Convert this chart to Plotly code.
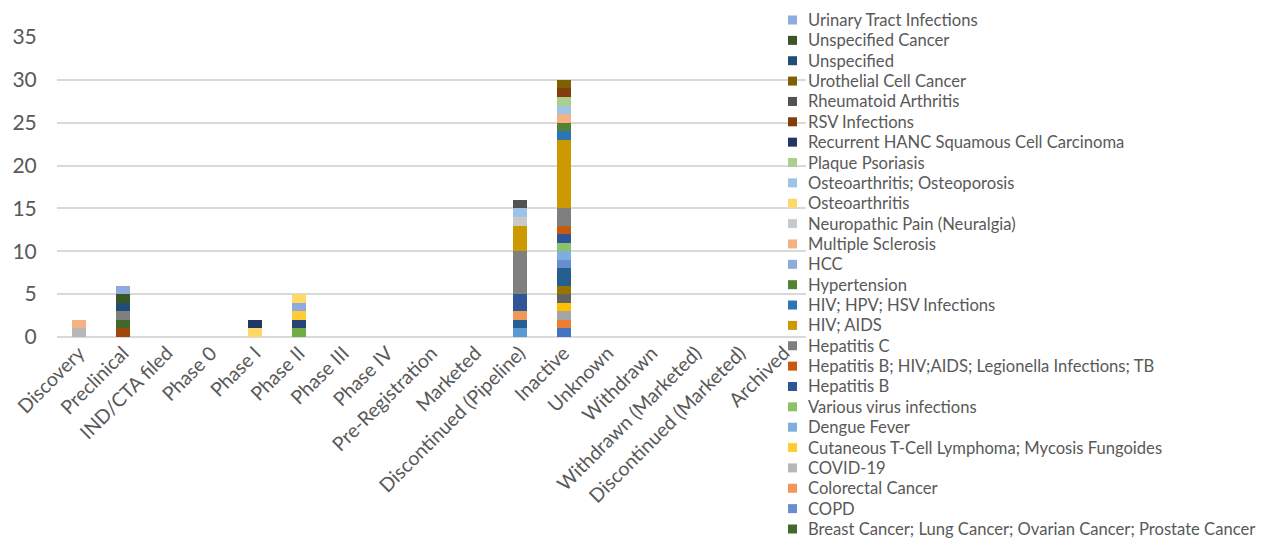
import plotly.graph_objects as go

categories = ["Discovery", "Preclinical", "IND/CTA filed", "Phase 0", "Phase I", "Phase II",
              "Phase III", "Phase IV", "Pre-Registration", "Marketed",
              "Discontinued (Pipeline)", "Inactive", "Unknown", "Withdrawn",
              "Withdrawn (Marketed)", "Discontinued (Marketed)", "Archived"]

# Series in stacking order (bottom -> top). The first 11 series have legend
# entries cut off in the reference, so their names are not visible.
series_names = [
    "Series 1", "Series 2", "Series 3", "Series 4", "Series 5", "Series 6",
    "Series 7", "Series 8", "Series 9", "Series 10", "Series 11",
    "Breast Cancer; Lung Cancer; Ovarian Cancer; Prostate Cancer", "COPD",
    "Colorectal Cancer", "COVID-19", "Cutaneous T-Cell Lymphoma; Mycosis Fungoides",
    "Dengue Fever", "Various virus infections", "Hepatitis B",
    "Hepatitis B; HIV;AIDS; Legionella Infections; TB", "Hepatitis C", "HIV; AIDS",
    "HIV; HPV; HSV Infections", "Hypertension", "HCC", "Multiple Sclerosis",
    "Neuropathic Pain (Neuralgia)", "Osteoarthritis", "Osteoarthritis; Osteoporosis",
    "Plaque Psoriasis", "Recurrent HANC Squamous Cell Carcinoma", "RSV Infections",
    "Rheumatoid Arthritis", "Urothelial Cell Cancer", "Unspecified",
    "Unspecified Cancer", "Urinary Tract Infections",
]
legend_visible = [False] * 11 + [True] * 26

series_colors = [
    "#4472C4", "#ED7D31", "#A5A5A5", "#FFC000", "#5B9BD5", "#70AD47",
    "#264478", "#9E480E", "#636363", "#997300", "#255E91",
    "#43682B", "#698ED0", "#F1975A", "#B7B7B7", "#FFCD33", "#7CAFDD", "#8CC168",
    "#2F5597", "#C55A11", "#7F7F7F", "#CC9900", "#2E75B6", "#548235",
    "#8FAADC", "#F4B183", "#C9C9C9", "#FFD966", "#9DC3E6", "#A9D18E",
    "#203864", "#843C0C", "#525252", "#7F6000", "#1F4E79", "#385723", "#8FAADC",
]

#          Dis Pre IND P0 PI PII PIII PIV PR Mk DcP Ina Unk Wd WdM DcM Arc
s01 =     [0,  0,  0,  0, 0, 0,  0,   0,  0, 0, 0,  1,  0,  0, 0,  0,  0]
s02 =     [0,  0,  0,  0, 0, 0,  0,   0,  0, 0, 0,  1,  0,  0, 0,  0,  0]
s03 =     [0,  0,  0,  0, 0, 0,  0,   0,  0, 0, 0,  1,  0,  0, 0,  0,  0]
s04 =     [0,  0,  0,  0, 0, 0,  0,   0,  0, 0, 0,  1,  0,  0, 0,  0,  0]
s05 =     [0,  0,  0,  0, 0, 0,  0,   0,  0, 0, 1,  0,  0,  0, 0,  0,  0]
s06 =     [0,  0,  0,  0, 0, 1,  0,   0,  0, 0, 0,  0,  0,  0, 0,  0,  0]
s07 =     [0,  0,  0,  0, 0, 1,  0,   0,  0, 0, 0,  0,  0,  0, 0,  0,  0]
s08 =     [0,  1,  0,  0, 0, 0,  0,   0,  0, 0, 0,  0,  0,  0, 0,  0,  0]
s09 =     [0,  0,  0,  0, 0, 0,  0,   0,  0, 0, 0,  1,  0,  0, 0,  0,  0]
s10 =     [0,  0,  0,  0, 0, 0,  0,   0,  0, 0, 0,  1,  0,  0, 0,  0,  0]
s11 =     [0,  0,  0,  0, 0, 0,  0,   0,  0, 0, 1,  2,  0,  0, 0,  0,  0]
breast =  [0,  1,  0,  0, 0, 0,  0,   0,  0, 0, 0,  0,  0,  0, 0,  0,  0]
copd =    [0,  0,  0,  0, 0, 0,  0,   0,  0, 0, 0,  1,  0,  0, 0,  0,  0]
colorec = [0,  0,  0,  0, 0, 0,  0,   0,  0, 0, 1,  0,  0,  0, 0,  0,  0]
covid =   [1,  0,  0,  0, 0, 0,  0,   0,  0, 0, 0,  0,  0,  0, 0,  0,  0]
ctcl =    [0,  0,  0,  0, 0, 1,  0,   0,  0, 0, 0,  0,  0,  0, 0,  0,  0]
dengue =  [0,  0,  0,  0, 0, 0,  0,   0,  0, 0, 0,  1,  0,  0, 0,  0,  0]
virus =   [0,  0,  0,  0, 0, 0,  0,   0,  0, 0, 0,  1,  0,  0, 0,  0,  0]
hepb =    [0,  0,  0,  0, 0, 0,  0,   0,  0, 0, 2,  1,  0,  0, 0,  0,  0]
hepbhiv = [0,  0,  0,  0, 0, 0,  0,   0,  0, 0, 0,  1,  0,  0, 0,  0,  0]
hepc =    [0,  1,  0,  0, 0, 0,  0,   0,  0, 0, 5,  2,  0,  0, 0,  0,  0]
hivaids = [0,  0,  0,  0, 0, 0,  0,   0,  0, 0, 3,  8,  0,  0, 0,  0,  0]
hivhpv =  [0,  0,  0,  0, 0, 0,  0,   0,  0, 0, 0,  1,  0,  0, 0,  0,  0]
hypert =  [0,  0,  0,  0, 0, 0,  0,   0,  0, 0, 0,  1,  0,  0, 0,  0,  0]
hcc =     [0,  0,  0,  0, 0, 1,  0,   0,  0, 0, 0,  0,  0,  0, 0,  0,  0]
ms =      [1,  0,  0,  0, 0, 0,  0,   0,  0, 0, 0,  1,  0,  0, 0,  0,  0]
neuro =   [0,  0,  0,  0, 0, 0,  0,   0,  0, 0, 1,  0,  0,  0, 0,  0,  0]
osteo =   [0,  0,  0,  0, 1, 1,  0,   0,  0, 0, 0,  0,  0,  0, 0,  0,  0]
osteopor =[0,  0,  0,  0, 0, 0,  0,   0,  0, 0, 1,  1,  0,  0, 0,  0,  0]
plaque =  [0,  0,  0,  0, 0, 0,  0,   0,  0, 0, 0,  1,  0,  0, 0,  0,  0]
hanc =    [0,  0,  0,  0, 1, 0,  0,   0,  0, 0, 0,  0,  0,  0, 0,  0,  0]
rsv =     [0,  0,  0,  0, 0, 0,  0,   0,  0, 0, 0,  1,  0,  0, 0,  0,  0]
rheum =   [0,  0,  0,  0, 0, 0,  0,   0,  0, 0, 1,  0,  0,  0, 0,  0,  0]
uroth =   [0,  0,  0,  0, 0, 0,  0,   0,  0, 0, 0,  1,  0,  0, 0,  0,  0]
unspec =  [0,  1,  0,  0, 0, 0,  0,   0,  0, 0, 0,  0,  0,  0, 0,  0,  0]
unspecca =[0,  1,  0,  0, 0, 0,  0,   0,  0, 0, 0,  0,  0,  0, 0,  0,  0]
urinary = [0,  1,  0,  0, 0, 0,  0,   0,  0, 0, 0,  0,  0,  0, 0,  0,  0]

series_values = [s01, s02, s03, s04, s05, s06, s07, s08, s09, s10, s11,
                 breast, copd, colorec, covid, ctcl, dengue, virus, hepb, hepbhiv,
                 hepc, hivaids, hivhpv, hypert, hcc, ms, neuro, osteo, osteopor,
                 plaque, hanc, rsv, rheum, uroth, unspec, unspecca, urinary]

y_ticks = [0, 5, 10, 15, 20, 25, 30, 35]

FONT = "Lato, 'Open Sans', sans-serif"
TXT = "#595959"
OFF = 8  # page body margin of the browser
W, H = 1270 - OFF, 538 - OFF
ML, MT = 57 - OFF, 37 - OFF
PLOT_R, PLOT_B = 806 - OFF, 337 - OFF
MR, MB = W - PLOT_R, H - PLOT_B
PW, PH = PLOT_R - ML, PLOT_B - MT

fig = go.Figure()
for name, color, vals in zip(series_names, series_colors, series_values):
    fig.add_trace(go.Bar(
        x=categories, y=vals, name=name, showlegend=False,
        marker=dict(color=color, line=dict(width=0)),
    ))

# Legend drawn as real text, top entry = top of stack (Excel style)
LEG_X, LEG_Y0, LEG_DY, SW = 788 - OFF, 20 - OFF, 20.36, 9
legend_items = [(n, c) for n, c, v in zip(series_names, series_colors, legend_visible) if v][::-1]
shapes, annotations = [], []
for i, (name, color) in enumerate(legend_items):
    yc = LEG_Y0 + i * LEG_DY
    shapes.append(dict(
        type="rect", xref="paper", yref="paper",
        x0=(LEG_X - ML) / PW, x1=(LEG_X + SW - ML) / PW,
        y0=(PLOT_B - (yc + SW / 2)) / PH, y1=(PLOT_B - (yc - SW / 2)) / PH,
        fillcolor=color, line=dict(width=0), layer="above",
    ))
    annotations.append(dict(
        text=name, xref="paper", yref="paper", x=(LEG_X + 18 - ML) / PW,
        y=(PLOT_B - yc) / PH, xanchor="left", yanchor="middle", showarrow=False,
        font=dict(size=16.6, color=TXT, family=FONT),
    ))

fig.update_layout(
    width=W, height=H,
    barmode="stack", bargap=0.68,
    paper_bgcolor="white", plot_bgcolor="white",
    margin=dict(l=ML, r=MR, t=MT, b=MB, autoexpand=False),
    font=dict(family=FONT, color=TXT),
    showlegend=False,
    shapes=shapes, annotations=annotations,
    xaxis=dict(
        tickangle=-45, tickfont=dict(size=19.5, color=TXT), showgrid=False,
        showline=False, ticks="", categoryorder="array", categoryarray=categories,
    ),
    yaxis=dict(
        range=[0, 35], tickvals=y_ticks, tickfont=dict(size=21, color=TXT),
        showgrid=True, gridcolor="#D9D9D9", gridwidth=1.5, zeroline=True,
        zerolinecolor="#D9D9D9", zerolinewidth=1.5, showline=False,
        ticks="outside", ticklen=15, tickcolor="rgba(0,0,0,0)",
    ),
)

fig.write_html("out.html")
